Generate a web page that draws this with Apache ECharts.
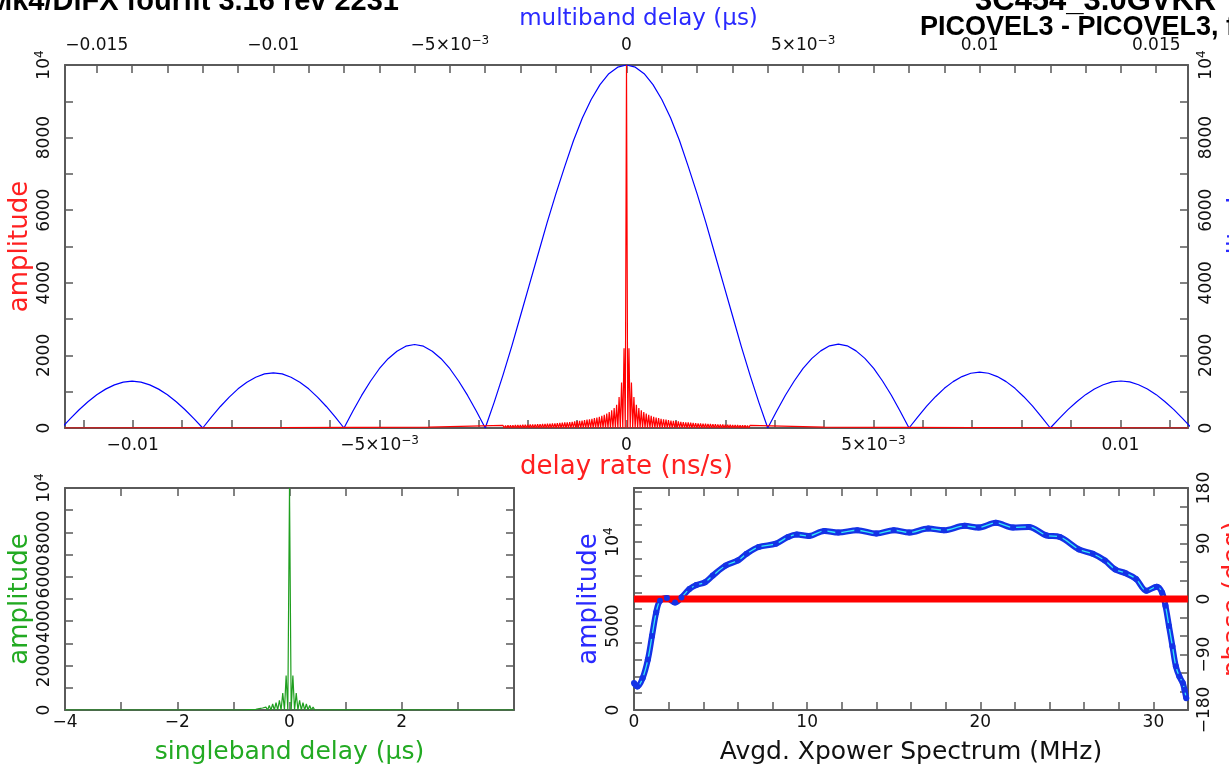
<!DOCTYPE html>
<html><head><meta charset="utf-8">
<script src="https://cdn.jsdelivr.net/npm/echarts@6/dist/echarts.min.js"></script>
<style>html,body{margin:0;padding:0;background:#fff;overflow:hidden}#c{width:1229px;height:771px}</style>
</head><body><div id="c"></div>
<script>
// ---------------- data ----------------
// Multiband delay amplitude (top axis, us), uniform sampling
const mbdStart = -0.016;
const mbdStep = 0.00025;
const mbdAmp = [
  0,258,503,722,916,1071,1187,1264,1290,1264,1187,1071,916,722,503,258,0,
  304,593,851,1079,1262,1398,1490,1520,1490,1398,1262,1079,851,593,304,0,
  460,897,1288,1633,1909,2116,2254,2300,2254,2116,1909,1633,1288,897,460,0,
  700,1450,2250,3100,3950,4800,5650,6450,7200,7920,8540,9050,9460,9760,9940,10000,
  9940,9760,9460,9050,8540,7920,7200,6450,5650,4800,3950,3100,2250,1450,700,0,
  462,901,1294,1640,1917,2125,2264,2310,2264,2125,1917,1640,1294,901,462,0,
  308,601,862,1093,1278,1416,1509,1540,1509,1416,1278,1093,862,601,308,0,
  259,505,725,919,1075,1192,1269,1295,1269,1192,1075,919,725,505,259,0
];
// Delay-rate amplitude comb (bottom axis, ns/s), centred on 0
const rateCombStep = 0.000025;
const rateCombAmp = [
  70,0,72,0,74,0,76,0,78,0,80,0,82,0,85,0,87,0,90,0,92,0,95,0,98,0,101,0,104,0,107,0,110,0,114,0,118,0,122,0,
  126,0,130,0,135,0,140,0,146,0,152,0,158,0,165,0,172,0,180,0,188,0,197,0,207,0,218,0,230,0,242,0,256,0,272,0,
  290,0,310,0,335,0,365,0,400,0,440,0,490,0,550,0,640,0,850,0,1250,0,2200,0,
  10000,
  0,2200,0,1250,0,850,0,640,0,550,0,490,0,440,0,400,0,365,0,335,0,310,0,290,
  0,272,0,256,0,242,0,230,0,218,0,207,0,197,0,188,0,180,0,172,0,165,0,158,0,152,0,146,0,140,0,135,0,130,0,126,
  0,122,0,118,0,114,0,110,0,107,0,104,0,101,0,98,0,95,0,92,0,90,0,87,0,85,0,82,0,80,0,78,0,76,0,74,0,72,0,70
];
const rateTailX = [-0.01137, -0.007, -0.004, 0.004, 0.007, 0.01137];
const rateTailAmp = [0, 10, 25, 25, 10, 0];

// Singleband delay amplitude comb (us), centred on 0
const sbdCombStep = 0.03;
const sbdCombAmp = [30,0,60,0,90,0,130,0,200,0,270,0,330,0,440,0,760,0,1550,0,10000,0,1550,0,760,0,440,0,330,0,270,0,200,0,130,0,90,0,60,0,30];
const sbdTailX = [-4, -0.8, 0.8, 4];
const sbdTailAmp = [0, 5, 5, 0];

// Averaged cross-power spectrum
const xpFreq = [0,0.2,0.5,0.8,1.04,1.28,1.5,1.9,2.37,2.74,3.2,3.6,4.1,4.55,5.3,6.0,6.5,7.2,8.2,8.9,9.4,10.1,11.0,11.8,12.9,14.0,15.0,15.9,17.0,17.9,19.1,19.9,20.9,21.9,22.8,23.8,24.6,25.7,26.5,27.2,27.8,28.4,29.0,29.6,30.2,30.5,30.7,30.9,31.1,31.3,31.5,31.7,31.8,31.9];
const xpAmp = [1600,1400,1900,3000,4400,5800,6500,6660,6400,6700,7200,7440,7600,8000,8600,8900,9300,9700,9900,10300,10440,10360,10660,10560,10700,10500,10700,10560,10800,10700,10960,10860,11140,10860,10900,10400,10300,9560,9300,8900,8360,8140,7800,7100,7340,7000,6200,5000,3800,2600,2000,1600,1200,700];
const phaseFreq = [0, 32];
const phaseDeg = [0, 0];

// tick / label values
const rateLabels = [-0.01,-0.005,0,0.005,0.01];
const rateTicks = [-0.011,-0.01,-0.009,-0.008,-0.007,-0.006,-0.005,-0.004,-0.003,-0.002,-0.001,0,0.001,0.002,0.003,0.004,0.005,0.006,0.007,0.008,0.009,0.01,0.011];
const mbdLabels = [-0.015,-0.01,-0.005,0,0.005,0.01,0.015];
const mbdTicks = [-0.015,-0.014,-0.013,-0.012,-0.011,-0.01,-0.009,-0.008,-0.007,-0.006,-0.005,-0.004,-0.003,-0.002,-0.001,0,0.001,0.002,0.003,0.004,0.005,0.006,0.007,0.008,0.009,0.01,0.011,0.012,0.013,0.014,0.015];
const ampLabels = [0,2000,4000,6000,8000,10000];
const ampTicks = [1000,2000,3000,4000,5000,6000,7000,8000,9000];
const sbdLabels = [-4,-2,0,2];
const sbdTicks = [-3,-2,-1,0,1,2,3];
const freqLabels = [0,10,20,30];
const freqTicks = [2,4,6,8,10,12,14,16,18,20,22,24,26,28,30];
const xpAmpLabels = [0,5000,10000];
const xpAmpTicks = [1000,2000,3000,4000,5000,6000,7000,8000,9000,10000,11000,12000,13000];
const phaseLabels = [-180,-90,0,90,180];
const phaseTicks = [-150,-120,-90,-60,-30,0,30,60,90,120,150];

// ---------------- build ----------------
const FONT = 'DejaVu Sans';
const AXC = '#5a5a5a';
const RICH = { s: { fontSize: 12, lineHeight: 10, verticalAlign: 'top', fontFamily: FONT } };

function fmtSci(v) {
  const a = Math.abs(v), s = v < -1e-12 ? '\u2212' : '';
  if (a < 1e-12) return '0';
  if (Math.abs(a - 0.005) < 1e-9) return s + '5\u00d710{s|\u22123}';
  return s + String(+a.toFixed(4));
}
function fmtAmp(v) { return v === 10000 ? '10{s|4}' : String(v); }
function fmtNum(v) { return v < 0 ? '\u2212' + Math.abs(v) : String(v); }

function mkAxis(p) {
  return {
    type: 'value', gridIndex: p.grid, position: p.pos, min: p.min, max: p.max,
    axisLine: { show: true, onZero: false, lineStyle: { color: AXC, width: 2 } },
    axisTick: { show: true, inside: true, length: 8, customValues: p.ticks, lineStyle: { color: AXC, width: 1.5 } },
    axisLabel: p.labels ? {
      show: true, customValues: p.labels, formatter: p.fmt, rotate: p.rotate || 0, margin: p.margin,
      color: '#111', fontSize: 17, fontFamily: FONT, lineHeight: 22, rich: RICH
    } : { show: false },
    splitLine: { show: false },
    name: p.name || '', nameLocation: 'middle', nameGap: p.nameGap || 0, nameMoveOverlap: false,
    nameTextStyle: { color: p.nameColor || '#000', fontSize: p.nameSize || 24, fontFamily: FONT, padding: p.namePad || 0 }
  };
}

const mbdData = mbdAmp.map((a, i) => [mbdStart + i * mbdStep, a]);
const rateData = [];
rateTailX.forEach((x, i) => { if (x < 0) rateData.push([x, rateTailAmp[i]]); });
const rc = (rateCombAmp.length - 1) / 2;
rateCombAmp.forEach((a, i) => rateData.push([(i - rc) * rateCombStep, a]));
rateTailX.forEach((x, i) => { if (x > 0) rateData.push([x, rateTailAmp[i]]); });
const sbdData = [];
sbdTailX.forEach((x, i) => { if (x < 0) sbdData.push([x, sbdTailAmp[i]]); });
const sc = (sbdCombAmp.length - 1) / 2;
sbdCombAmp.forEach((a, i) => sbdData.push([(i - sc) * sbdCombStep, a]));
sbdTailX.forEach((x, i) => { if (x > 0) sbdData.push([x, sbdTailAmp[i]]); });
const xpData = xpFreq.map((f, i) => [f, xpAmp[i]]);
const phData = phaseFreq.map((f, i) => [f, phaseDeg[i]]);

const option = {
  animation: false,
  backgroundColor: '#fff',
  grid: [
    { left: 65, top: 65, width: 1123, height: 363, outerBoundsMode: 'none', containLabel: false },
    { left: 65, top: 488, width: 449, height: 222, outerBoundsMode: 'none', containLabel: false },
    { left: 634, top: 488, width: 554, height: 222, outerBoundsMode: 'none', containLabel: false }
  ],
  xAxis: [
    mkAxis({ grid: 0, pos: 'bottom', min: -0.01137, max: 0.01137, ticks: rateTicks, labels: rateLabels, fmt: fmtSci, margin: 7, name: 'delay rate (ns/s)', nameColor: '#ff2020', nameGap: 26, nameSize: 26 }),
    mkAxis({ grid: 0, pos: 'top', min: -0.0159, max: 0.0159, ticks: mbdTicks, labels: mbdLabels, fmt: fmtSci, margin: 8, name: 'multiband delay (\u03bcs)', nameColor: '#2a2aff', nameGap: 34, nameSize: 23, namePad: [0, 0, 0, 24] }),
    mkAxis({ grid: 1, pos: 'bottom', min: -4, max: 4, ticks: sbdTicks, labels: sbdLabels, fmt: fmtNum, margin: 2, name: 'singleband delay (\u03bcs)', nameColor: '#22aa22', nameGap: 30, nameSize: 25 }),
    mkAxis({ grid: 1, pos: 'top', min: -4, max: 4, ticks: sbdTicks }),
    mkAxis({ grid: 2, pos: 'bottom', min: 0, max: 32, ticks: freqTicks, labels: freqLabels, fmt: fmtNum, margin: 2, name: 'Avgd. Xpower Spectrum (MHz)', nameColor: '#111', nameGap: 30, nameSize: 25 }),
    mkAxis({ grid: 2, pos: 'top', min: 0, max: 32, ticks: freqTicks })
  ],
  yAxis: [
    mkAxis({ grid: 0, pos: 'left', min: 0, max: 10000, ticks: ampTicks, labels: ampLabels, fmt: fmtAmp, rotate: 90, margin: 9, name: 'amplitude', nameColor: '#ff2020', nameGap: 32, nameSize: 26 }),
    mkAxis({ grid: 0, pos: 'right', min: 0, max: 10000, ticks: ampTicks, labels: ampLabels, fmt: fmtAmp, rotate: 90, margin: 8, name: 'amplitude', nameColor: '#2a2aff', nameGap: 38, nameSize: 26 }),
    mkAxis({ grid: 1, pos: 'left', min: 0, max: 10000, ticks: ampTicks, labels: ampLabels, fmt: fmtAmp, rotate: 90, margin: 9, name: 'amplitude', nameColor: '#22aa22', nameGap: 32, nameSize: 26 }),
    mkAxis({ grid: 1, pos: 'right', min: 0, max: 10000, ticks: ampTicks }),
    mkAxis({ grid: 2, pos: 'left', min: 0, max: 13214, ticks: xpAmpTicks, labels: xpAmpLabels, fmt: fmtAmp, rotate: 90, margin: 9, name: 'amplitude', nameColor: '#2a2aff', nameGap: 32, nameSize: 26 }),
    mkAxis({ grid: 2, pos: 'right', min: -180, max: 180, ticks: phaseTicks, labels: phaseLabels, fmt: fmtNum, rotate: 90, margin: 6, name: 'phase (deg)', nameColor: '#ff2020', nameGap: 33, nameSize: 26 })
  ],
  series: [
    { type: 'line', name: 'multiband delay', xAxisIndex: 1, yAxisIndex: 0, data: mbdData, showSymbol: false, symbol: 'none', lineStyle: { color: '#0000ff', width: 1.2 } },
    { type: 'line', name: 'delay rate', xAxisIndex: 0, yAxisIndex: 0, data: rateData, showSymbol: false, symbol: 'none', lineStyle: { color: '#ff0000', width: 1.2 } },
    { type: 'line', name: 'singleband delay', xAxisIndex: 2, yAxisIndex: 2, data: sbdData, showSymbol: false, symbol: 'none', lineStyle: { color: '#1f9f1f', width: 1.2 } },
    { type: 'line', name: 'amplitude', xAxisIndex: 4, yAxisIndex: 4, data: xpData, smooth: 0.35, symbol: 'circle', symbolSize: 6, showSymbol: true, itemStyle: { color: '#1432e6' }, lineStyle: { color: '#1432e6', width: 6 } },
    { type: 'line', name: 'amplitude core', xAxisIndex: 4, yAxisIndex: 4, data: xpData, smooth: 0.35, showSymbol: false, symbol: 'none', lineStyle: { color: '#33e8f5', width: 1.3 } },
    { type: 'line', name: 'phase', xAxisIndex: 4, yAxisIndex: 5, data: phData, showSymbol: false, symbol: 'none', lineStyle: { color: '#ff0000', width: 7 } }
  ],
  graphic: [
    { type: 'text', left: -12, top: -13, style: { text: 'Mk4/DiFX fourfit 3.16 rev 2231', fontFamily: 'Liberation Sans', fontWeight: 'bold', fontSize: 29, fill: '#000' } },
    { type: 'text', left: 975, top: -14, style: { text: '3C454_3.0GVKR', fontFamily: 'Liberation Sans', fontWeight: 'bold', fontSize: 31, fill: '#000' } },
    { type: 'text', left: 920, top: 14, style: { text: 'PICOVEL3 - PICOVEL3, fgroup X', fontFamily: 'Liberation Sans', fontWeight: 'bold', fontSize: 27, fill: '#000' } }
  ]
};
const chart = echarts.init(document.getElementById('c'), null, { renderer: 'canvas' });
chart.setOption(option);
</script></body></html>
